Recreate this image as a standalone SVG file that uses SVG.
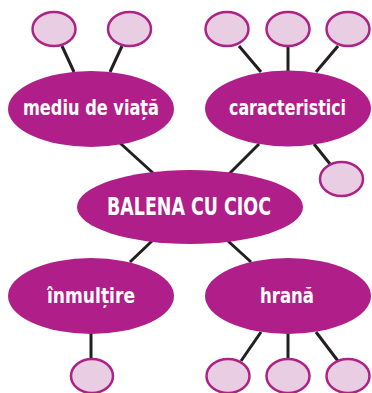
<svg xmlns="http://www.w3.org/2000/svg" width="372" height="393" viewBox="0 0 372 393">
<style>
.main{fill:#B01E8A}
.leaf{fill:#E9CDE2;stroke:#AE2286;stroke-width:2.5}
.lbl{fill:#fff;font-family:"Liberation Sans Narrow","DejaVu Sans Condensed","Liberation Sans",sans-serif;font-weight:bold;text-anchor:middle}
.c line{stroke:#231F20;stroke-width:3}
</style>
<rect width="372" height="393" fill="#fff"/>
<g class="c" id="connectors">
<line x1="62" y1="46" x2="74" y2="72"/>
<line x1="122" y1="46" x2="110" y2="72"/>
<line x1="120" y1="143" x2="153" y2="173"/>
<line x1="239" y1="46" x2="261" y2="72"/>
<line x1="288" y1="46" x2="288" y2="71"/>
<line x1="338" y1="46" x2="316" y2="72"/>
<line x1="259" y1="144" x2="229" y2="174"/>
<line x1="314" y1="144" x2="330" y2="164"/>
<line x1="152" y1="241" x2="130" y2="262"/>
<line x1="228" y1="241" x2="251" y2="262"/>
<line x1="91" y1="333" x2="91" y2="359"/>
<line x1="261" y1="332" x2="241" y2="361"/>
<line x1="288" y1="333" x2="288" y2="360"/>
<line x1="316" y1="332" x2="338" y2="361"/>
</g>
<g id="leaf-m1"><ellipse class="leaf" cx="54" cy="29" rx="21.5" ry="17"/></g>
<g id="leaf-m2"><ellipse class="leaf" cx="129.5" cy="29" rx="21.5" ry="17"/></g>
<g id="leaf-c1"><ellipse class="leaf" cx="227" cy="29" rx="21.5" ry="17"/></g>
<g id="leaf-c2"><ellipse class="leaf" cx="288" cy="29" rx="21.5" ry="17"/></g>
<g id="leaf-c3"><ellipse class="leaf" cx="348" cy="29" rx="21.5" ry="17"/></g>
<g id="leaf-c4"><ellipse class="leaf" cx="341.5" cy="179" rx="21.5" ry="17"/></g>
<g id="leaf-i1"><ellipse class="leaf" cx="92" cy="376" rx="21" ry="17"/></g>
<g id="leaf-h1"><ellipse class="leaf" cx="228" cy="376" rx="21.5" ry="17"/></g>
<g id="leaf-h2"><ellipse class="leaf" cx="288" cy="376" rx="21.5" ry="17"/></g>
<g id="leaf-h3"><ellipse class="leaf" cx="348" cy="376" rx="21.5" ry="17"/></g>
<g id="mediu"><ellipse class="main" cx="91" cy="109" rx="83" ry="38"/><text class="lbl" x="91" y="115" font-size="22" textLength="136" lengthAdjust="spacingAndGlyphs">mediu de viață</text></g>
<g id="caracteristici"><ellipse class="main" cx="288" cy="108.5" rx="83" ry="38"/><text class="lbl" x="287.5" y="115" font-size="22" textLength="117" lengthAdjust="spacingAndGlyphs">caracteristici</text></g>
<g id="balena"><ellipse class="main" cx="190" cy="207" rx="113" ry="37"/><text class="lbl" x="189" y="215" font-size="25" textLength="164" lengthAdjust="spacingAndGlyphs">BALENA CU CIOC</text></g>
<g id="inmultire"><ellipse class="main" cx="91" cy="296" rx="83" ry="38"/><text class="lbl" x="91" y="303" font-size="22" textLength="88" lengthAdjust="spacingAndGlyphs">înmulțire</text></g>
<g id="hrana"><ellipse class="main" cx="288" cy="296" rx="83" ry="38"/><text class="lbl" x="287" y="303" font-size="22" textLength="54" lengthAdjust="spacingAndGlyphs">hrană</text></g>
</svg>
